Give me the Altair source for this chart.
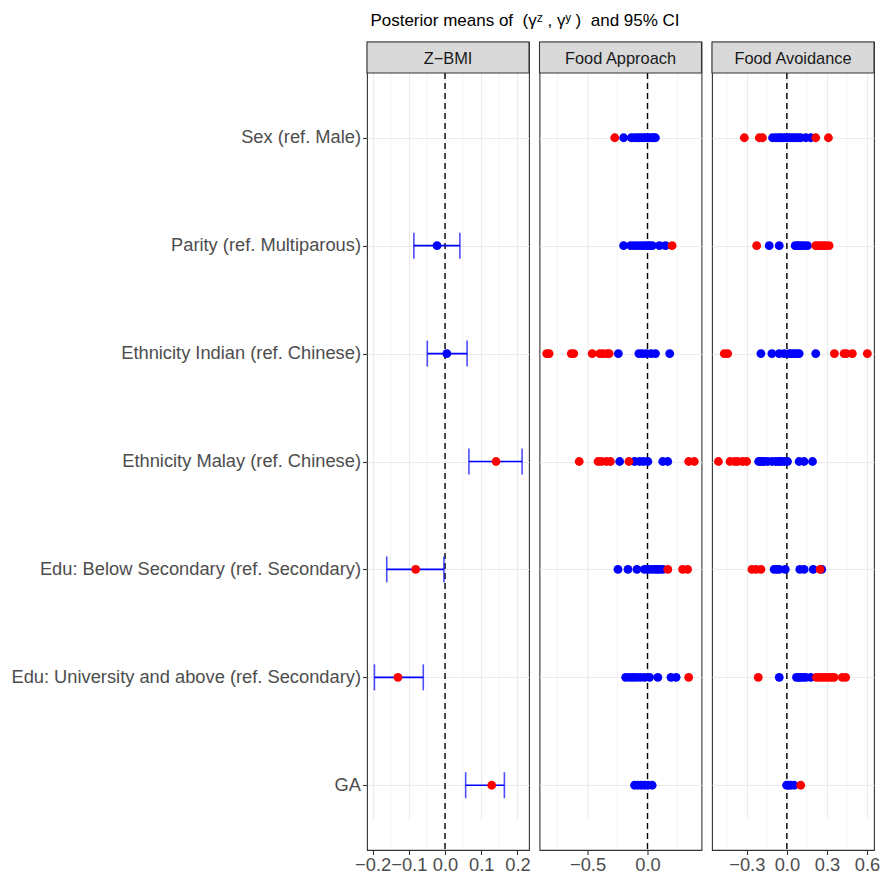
import altair as alt
import pandas as pd

# ---------------- data ----------------
CATEGORIES = [
    "Sex (ref. Male)",
    "Parity (ref. Multiparous)",
    "Ethnicity Indian (ref. Chinese)",
    "Ethnicity Malay (ref. Chinese)",
    "Edu: Below Secondary (ref. Secondary)",
    "Edu: University and above (ref. Secondary)",
    "GA",
]
PANELS = ["Z\u2212BMI", "Food Approach", "Food Avoidance"]

# Z-BMI: posterior mean and 95% CI (no estimate for Sex)
ZBMI_CATS = CATEGORIES[1:]
ZBMI_MEAN = [-0.022, 0.005, 0.141, -0.081, -0.130, 0.129]
ZBMI_LO = [-0.086, -0.049, 0.066, -0.161, -0.195, 0.057]
ZBMI_HI = [0.041, 0.061, 0.213, -0.003, -0.060, 0.164]
ZBMI_SIG = [False, False, True, True, True, True]

# Food Approach posterior means (blue = CI covers 0, red = CI excludes 0)
FA_BLUE = [
    [-0.199, -0.135, -0.108, -0.085, -0.065, -0.045, -0.025, -0.005, 0.015, 0.035, 0.052, 0.066],
    [-0.199, -0.14, -0.11, -0.08, -0.05, -0.025, 0.0, 0.02, 0.04, 0.10, 0.15],
    [-0.243, -0.072, -0.044, -0.011, 0.03, 0.066, 0.185],
    [-0.232, -0.108, -0.066, -0.033, 0.003, 0.127, 0.169],
    [-0.246, -0.163, -0.088, -0.025, 0.003, 0.03, 0.058, 0.08, 0.10, 0.127],
    [-0.182, -0.149, -0.122, -0.094, -0.061, -0.025, 0.017, 0.086, 0.196, 0.238],
    [-0.108, -0.08, -0.052, -0.025, 0.003, 0.039],
]
FA_RED = [
    [-0.273],
    [0.205],
    [-0.84, -0.82, -0.635, -0.615, -0.461, -0.398, -0.37, -0.337, -0.32],
    [-0.569, -0.412, -0.384, -0.343, -0.309, -0.155, 0.343, 0.39],
    [0.169, 0.293, 0.334],
    [0.343],
    [],
]

# Food Avoidance posterior means
FV_BLUE = [
    [-0.107, -0.082, -0.06, -0.045, -0.025, -0.007, 0.012, 0.03, 0.05, 0.067, 0.085, 0.104, 0.142, 0.179],
    [-0.132, -0.057, 0.062, 0.078, 0.092, 0.11, 0.129, 0.154],
    [-0.194, -0.112, -0.057, -0.02, 0.017, 0.035, 0.055, 0.075, 0.092, 0.216],
    [-0.211, -0.2, -0.182, -0.17, -0.144, -0.11, -0.082, -0.06, -0.045, -0.02, 0.005, 0.092, 0.129, 0.192],
    [-0.095, -0.075, -0.057, -0.012, 0.097, 0.129, 0.197, 0.261],
    [-0.057, 0.072, 0.09, 0.104, 0.125, 0.142, 0.179],
    [-0.002, 0.015, 0.03, 0.055],
]
FV_RED = [
    [-0.318, -0.206, -0.182, 0.216, 0.311],
    [-0.226, 0.216, 0.235, 0.254, 0.275, 0.291, 0.316],
    [-0.468, -0.443, 0.356, 0.428, 0.445, 0.49, 0.602],
    [-0.512, -0.425, -0.39, -0.368, -0.331, -0.301],
    [-0.261, -0.231, -0.194, 0.249],
    [-0.214, 0.221, 0.245, 0.266, 0.29, 0.316, 0.335, 0.353, 0.415, 0.44],
    [0.104],
]

# axis setup per panel
X_DOMAINS = [[-0.2155, 0.232], [-0.9, 0.45], [-0.56, 0.652]]
X_MAJOR = [[-0.2, -0.1, 0.0, 0.1, 0.2], [-0.5, 0.0], [-0.3, 0.0, 0.3, 0.6]]
X_MINOR = [[-0.15, -0.05, 0.05, 0.15], [-0.75, -0.25, 0.25], [-0.45, -0.15, 0.15, 0.45]]

TITLE = "Posterior means of\u00a0\u00a0(\u03b3\u1dbb\u00a0,\u00a0\u03b3\u02b8\u00a0)\u00a0\u00a0and 95% CI"

# ---------------- style ----------------
W = 162
H = 808
STRIP = 31
BLUE = "#0000FF"
RED = "#FF0000"
FONT = "Liberation Sans"


def dots_df(lists):
    rows = [(c, v) for c, vals in zip(CATEGORIES, lists) for v in vals]
    return pd.DataFrame(rows, columns=["cat", "val"])


def panel(idx, blue=None, red=None, zbmi=False):
    show_y = idx == 0
    xscale = alt.Scale(domain=X_DOMAINS[idx], nice=False, zero=False)
    yscale = alt.Scale(type="point", domain=CATEGORIES, range=[STRIP, H], padding=0.6)
    xaxis = alt.Axis(title=None, values=X_MAJOR[idx], format=".1f", grid=True)
    yaxis = alt.Axis(title=None, labels=show_y, ticks=show_y, grid=True, labelLimit=500)

    minor = alt.Chart(pd.DataFrame({"v": X_MINOR[idx]})).mark_rule(
        color="#EBEBEB", strokeWidth=0.55
    ).encode(x=alt.X("v:Q", scale=xscale, axis=xaxis), y=alt.value(STRIP), y2=alt.value(H))

    zero = alt.Chart(pd.DataFrame({"z": [0.0]})).mark_rule(
        color="black", strokeWidth=1.4, strokeDash=[6, 4]
    ).encode(x=alt.X("z:Q", scale=xscale, axis=xaxis), y=alt.value(STRIP), y2=alt.value(H))

    layers = [minor, zero]
    y = alt.Y("cat:N", scale=yscale, axis=yaxis, sort=CATEGORIES)

    if zbmi:
        zdf = pd.DataFrame({
            "cat": ZBMI_CATS, "mean": ZBMI_MEAN, "lo": ZBMI_LO, "hi": ZBMI_HI,
            "sig": ["red" if s else "blue" for s in ZBMI_SIG],
        })
        base = alt.Chart(zdf)
        bar = base.mark_rule(color=BLUE, strokeWidth=1.6).encode(
            x=alt.X("lo:Q", scale=xscale, axis=xaxis), x2="hi:Q", y=y)
        cap_lo = base.mark_tick(color=BLUE, thickness=1.6, size=26).encode(
            x=alt.X("lo:Q", scale=xscale, axis=xaxis), y=y)
        cap_hi = base.mark_tick(color=BLUE, thickness=1.6, size=26).encode(
            x=alt.X("hi:Q", scale=xscale, axis=xaxis), y=y)
        pts = base.mark_circle(size=78, opacity=1).encode(
            x=alt.X("mean:Q", scale=xscale, axis=xaxis), y=y,
            color=alt.Color("sig:N", scale=alt.Scale(domain=["blue", "red"], range=[BLUE, RED]), legend=None),
        )
        layers += [bar, cap_lo, cap_hi, pts]
    else:
        for lists, col in ((blue, BLUE), (red, RED)):
            layers.append(
                alt.Chart(dots_df(lists)).mark_circle(size=78, opacity=1, color=col).encode(
                    x=alt.X("val:Q", scale=xscale, axis=xaxis), y=y)
            )

    sdf = pd.DataFrame({"panel": [PANELS[idx]]})
    strip = alt.Chart(sdf).mark_rect(fill="#D9D9D9", stroke="#333333", strokeWidth=1.1).encode(
        x=alt.value(0), x2=alt.value(W), y=alt.value(0), y2=alt.value(STRIP))
    strip_txt = alt.Chart(sdf).mark_text(fontSize=16.4, font=FONT, color="#1A1A1A").encode(
        text="panel:N", x=alt.value(W / 2), y=alt.value(STRIP / 2 + 1))
    layers += [strip, strip_txt]
    return alt.layer(*layers).properties(width=W, height=H)


chart = alt.hconcat(
    panel(0, zbmi=True),
    panel(1, FA_BLUE, FA_RED),
    panel(2, FV_BLUE, FV_RED),
    spacing=6.5,
).properties(
    title=alt.TitleParams(
        TITLE,
        anchor="start", dx=360, fontSize=17, font=FONT, fontWeight="normal",
        color="black", offset=11,
    ),
    padding={"left": 10, "top": 11, "right": 0, "bottom": 0},
).configure_view(
    stroke="#333333", strokeWidth=1.1
).configure_axis(
    labelFont=FONT, labelFontSize=18.3, labelColor="#4D4D4D", tickColor="#333333",
    tickWidth=1.1, tickSize=4.5, labelPadding=2, gridColor="#EBEBEB", gridWidth=1.1,
    domain=False,
)

chart.save("out.html", embed_options={"renderer": "svg", "actions": False})
